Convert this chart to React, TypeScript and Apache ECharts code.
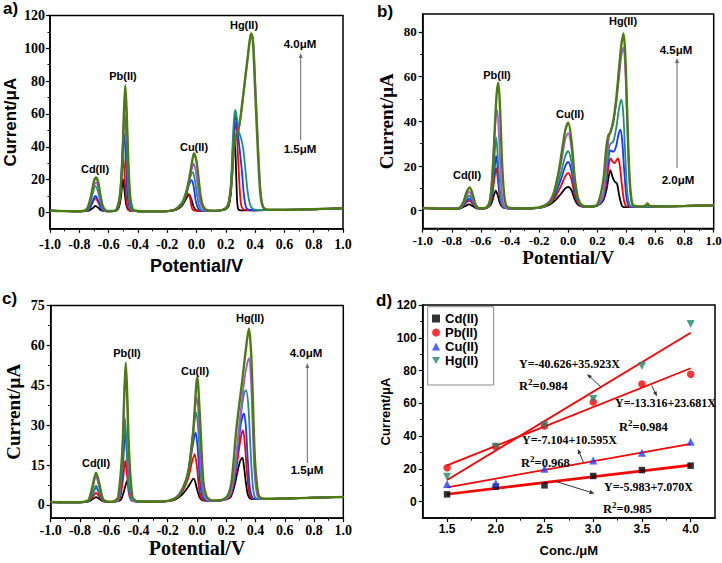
import React, { useEffect, useRef } from 'react';
import * as echarts from 'echarts';

type Pt = [number, number];

// ---------- panel a: voltammograms, 1.5 -> 4.0 uM ----------
const A_BLACK: Pt[] = [[-1.0,1.0],[-0.9,0.8],[-0.8,0.7],[-0.74,0.9],[-0.71,2.5],[-0.69,3.9],[-0.67,2.8],[-0.65,1.2],[-0.6,0.7],[-0.55,1.0],[-0.53,3],[-0.515,10],[-0.502,20.3],[-0.49,12],[-0.478,4],[-0.46,1.2],[-0.4,0.7],[-0.3,0.6],[-0.2,0.7],[-0.14,1.5],[-0.1,4],[-0.07,8.5],[-0.051,11],[-0.035,8],[-0.02,3.5],[0.0,1.2],[0.05,0.8],[0.1,0.9],[0.15,1.1],[0.2,2],[0.22,4],[0.235,12],[0.245,25],[0.252,38],[0.258,45],[0.265,38],[0.272,20],[0.278,6],[0.285,2],[0.3,1.2],[0.4,1.3],[0.5,1.4],[0.6,1.5],[0.8,1.9],[1.0,2.5]];
const A_RED: Pt[] = [[-1.0,1.0],[-0.9,0.8],[-0.8,0.7],[-0.74,1.2],[-0.72,4],[-0.69,8.5],[-0.665,5],[-0.645,1.5],[-0.6,0.7],[-0.55,1.0],[-0.53,4],[-0.515,16],[-0.5,33.7],[-0.488,18],[-0.475,5],[-0.46,1.3],[-0.4,0.7],[-0.3,0.6],[-0.2,0.8],[-0.14,1.8],[-0.1,5],[-0.075,9.5],[-0.06,11.4],[-0.045,9],[-0.035,4],[-0.025,1.5],[0.0,0.9],[0.05,0.8],[0.1,0.9],[0.15,1.1],[0.2,2],[0.22,4.5],[0.235,14],[0.248,35],[0.257,50],[0.263,55],[0.27,52],[0.28,40],[0.29,22],[0.3,8],[0.31,3],[0.33,1.5],[0.4,1.3],[0.5,1.4],[0.6,1.5],[0.8,1.9],[1.0,2.5]];
const A_BLUE: Pt[] = [[-1.0,1.0],[-0.9,0.8],[-0.8,0.7],[-0.74,1.3],[-0.72,4.5],[-0.69,10],[-0.665,6],[-0.645,1.6],[-0.6,0.7],[-0.55,1.0],[-0.53,4.5],[-0.515,18],[-0.503,38],[-0.493,47.5],[-0.482,30],[-0.47,9],[-0.455,2],[-0.44,1],[-0.4,0.7],[-0.3,0.6],[-0.2,0.8],[-0.15,1.5],[-0.1,5.5],[-0.07,11],[-0.05,17],[-0.033,19.7],[-0.02,16],[-0.005,7],[0.01,2.5],[0.03,1.0],[0.1,0.9],[0.15,1.1],[0.2,2],[0.22,5],[0.235,15],[0.248,38],[0.258,54],[0.265,59],[0.275,55],[0.285,46],[0.295,38],[0.31,25],[0.322,12],[0.335,4],[0.35,1.8],[0.4,1.3],[0.5,1.4],[0.6,1.5],[0.8,1.9],[1.0,2.5]];
const A_TEAL: Pt[] = [[-1.0,1.0],[-0.9,0.8],[-0.8,0.7],[-0.75,1.2],[-0.73,4.5],[-0.71,11],[-0.69,16],[-0.67,12],[-0.655,6],[-0.64,2],[-0.62,0.9],[-0.55,1.0],[-0.53,5],[-0.515,20],[-0.5,48],[-0.49,60],[-0.48,45],[-0.468,18],[-0.455,4],[-0.44,1.2],[-0.4,0.7],[-0.3,0.6],[-0.2,0.8],[-0.15,1.5],[-0.1,6],[-0.07,13],[-0.045,21],[-0.025,24.6],[-0.01,19],[0.005,10],[0.02,3.5],[0.04,1.2],[0.1,0.9],[0.15,1.1],[0.2,2.3],[0.22,6],[0.235,18],[0.248,45],[0.258,59],[0.265,62.5],[0.275,58],[0.29,49],[0.305,45],[0.32,38],[0.335,25],[0.35,12],[0.365,5],[0.38,2.5],[0.4,1.6],[0.5,1.4],[0.6,1.5],[0.8,1.9],[1.0,2.5]];
const A_PURPLE: Pt[] = [[-1.0,1.0],[-0.9,0.8],[-0.8,0.7],[-0.76,1.1],[-0.74,3],[-0.72,9],[-0.7,16],[-0.685,18.3],[-0.67,15],[-0.655,8],[-0.64,3],[-0.62,1],[-0.56,0.9],[-0.54,3],[-0.52,12],[-0.505,33],[-0.495,58],[-0.486,74],[-0.477,58],[-0.467,32],[-0.455,11],[-0.44,3],[-0.42,1],[-0.3,0.6],[-0.2,0.8],[-0.15,1.5],[-0.1,5],[-0.07,12],[-0.045,21],[-0.03,27],[-0.019,29.7],[-0.005,25],[0.01,15],[0.025,6],[0.045,2],[0.07,1.1],[0.15,1.1],[0.2,2.5],[0.22,6],[0.24,19],[0.255,38],[0.27,46],[0.29,52],[0.31,64],[0.33,79],[0.35,94],[0.365,105],[0.377,108],[0.389,103],[0.404,75],[0.424,35],[0.439,12],[0.454,4],[0.47,2],[0.5,1.6],[0.6,1.6],[0.8,2],[1.0,2.6]];
const A_OLIVE: Pt[] = [[-1.0,1.0],[-0.9,0.8],[-0.8,0.7],[-0.76,1.2],[-0.74,3.5],[-0.72,10],[-0.7,19],[-0.685,21.3],[-0.67,18],[-0.655,10],[-0.64,4],[-0.62,1.2],[-0.6,0.8],[-0.56,0.9],[-0.54,3],[-0.52,12],[-0.505,35],[-0.495,62],[-0.486,77.4],[-0.477,62],[-0.467,35],[-0.455,12],[-0.44,3],[-0.42,1],[-0.3,0.6],[-0.2,0.8],[-0.15,1.6],[-0.1,5],[-0.07,12],[-0.045,23],[-0.03,31],[-0.017,36],[0.0,31],[0.015,20],[0.03,9],[0.05,3],[0.08,1.2],[0.15,1.1],[0.2,2.5],[0.22,6],[0.24,20],[0.255,40],[0.27,47],[0.29,52],[0.31,65],[0.33,80],[0.35,95],[0.365,106],[0.374,109],[0.385,104],[0.4,75],[0.42,35],[0.435,12],[0.45,4],[0.47,2],[0.5,1.6],[0.6,1.6],[0.8,2],[1.0,2.6]];

// ---------- panel b: 2.0 -> 4.5 uM ----------
const B_BLACK: Pt[] = [[-1,1.2],[-0.9,1.0],[-0.8,0.9],[-0.74,1.1],[-0.71,2],[-0.68,2.8],[-0.655,2],[-0.63,1.1],[-0.6,1.0],[-0.56,1.2],[-0.53,3],[-0.51,7],[-0.498,9],[-0.485,7],[-0.47,3.5],[-0.45,1.5],[-0.42,1.1],[-0.3,1.0],[-0.2,1.3],[-0.15,2],[-0.1,4],[-0.05,7.5],[-0.02,10],[0.0,10.6],[0.02,9.5],[0.045,5],[0.07,2.5],[0.1,1.8],[0.15,1.8],[0.2,2.2],[0.24,4.5],[0.265,10],[0.28,16],[0.29,18],[0.305,15],[0.32,13],[0.336,12],[0.35,7],[0.365,3],[0.38,1.6],[0.42,1.6],[0.5,1.7],[0.6,1.9],[0.8,2.1],[1.0,2.4]];
const B_RED: Pt[] = [[-1,1.2],[-0.9,1.0],[-0.8,0.9],[-0.74,1.2],[-0.71,3],[-0.68,4.5],[-0.655,3],[-0.63,1.2],[-0.6,1.0],[-0.56,1.2],[-0.53,4],[-0.51,13],[-0.495,19.1],[-0.482,13],[-0.468,5],[-0.45,1.8],[-0.42,1.1],[-0.3,1.0],[-0.2,1.3],[-0.15,2.2],[-0.1,5],[-0.05,11],[-0.02,15.5],[0.0,16.9],[0.02,14.5],[0.045,7],[0.07,3],[0.1,1.8],[0.15,1.8],[0.2,2.3],[0.24,5.5],[0.265,14],[0.28,21],[0.292,23.4],[0.305,22],[0.32,21.3],[0.333,22.8],[0.342,23.4],[0.355,20],[0.37,11],[0.385,4],[0.4,2],[0.44,1.7],[0.5,1.7],[0.6,1.9],[0.8,2.1],[1.0,2.4]];
const B_BLUE: Pt[] = [[-1,1.2],[-0.9,1.0],[-0.8,0.9],[-0.74,1.2],[-0.71,3.5],[-0.68,5.4],[-0.655,3.5],[-0.63,1.3],[-0.6,1.0],[-0.56,1.2],[-0.53,5],[-0.51,16],[-0.495,24.5],[-0.482,17],[-0.468,6],[-0.45,2],[-0.42,1.1],[-0.3,1.0],[-0.2,1.3],[-0.15,2.3],[-0.1,6],[-0.05,14],[-0.02,20],[0.0,21.8],[0.02,18.5],[0.045,9],[0.07,3.5],[0.1,1.9],[0.15,1.8],[0.2,2.3],[0.24,6],[0.265,17],[0.28,25],[0.29,27],[0.31,26.3],[0.33,29],[0.345,34],[0.358,36.3],[0.37,32],[0.385,18],[0.4,6],[0.415,2.2],[0.44,1.7],[0.5,1.7],[0.6,1.9],[0.8,2.1],[1.0,2.4]];
const B_TEAL: Pt[] = [[-1,1.2],[-0.9,1.0],[-0.8,0.9],[-0.74,1.3],[-0.71,4.2],[-0.68,6.7],[-0.655,4.2],[-0.63,1.4],[-0.6,1.0],[-0.56,1.2],[-0.53,6],[-0.51,21],[-0.495,32.8],[-0.482,22],[-0.468,8],[-0.45,2.3],[-0.42,1.1],[-0.3,1.0],[-0.2,1.3],[-0.15,2.4],[-0.1,7],[-0.05,17],[-0.02,24.5],[0.0,26.6],[0.02,22.5],[0.045,11],[0.07,4],[0.1,2],[0.15,1.8],[0.2,2.4],[0.24,6.5],[0.265,19],[0.28,28],[0.29,29.9],[0.31,31],[0.33,37],[0.35,46],[0.365,49.7],[0.378,44],[0.392,25],[0.405,9],[0.42,3],[0.44,1.8],[0.5,1.8],[0.6,1.9],[0.8,2.1],[1.0,2.4]];
const B_PURPLE: Pt[] = [[-1,1.2],[-0.9,1.0],[-0.8,0.9],[-0.74,1.4],[-0.71,5],[-0.68,8.4],[-0.655,5],[-0.63,1.5],[-0.6,1.0],[-0.56,1.3],[-0.535,6],[-0.515,25],[-0.5,40],[-0.488,45.2],[-0.475,32],[-0.46,11],[-0.445,3],[-0.42,1.2],[-0.3,1.0],[-0.2,1.4],[-0.15,2.6],[-0.1,8],[-0.05,21],[-0.02,32],[0.0,34.8],[0.02,29],[0.045,14],[0.07,5],[0.1,2.2],[0.15,1.9],[0.2,2.6],[0.24,7.5],[0.265,23],[0.28,33],[0.29,35],[0.31,40],[0.33,48],[0.35,60],[0.365,69],[0.38,73],[0.392,64],[0.405,40],[0.42,14],[0.435,4],[0.45,2],[0.5,1.8],[0.53,2.2],[0.545,3],[0.56,2.1],[0.6,1.9],[0.8,2.1],[1.0,2.4]];
const B_OLIVE: Pt[] = [[-1,1.2],[-0.9,1.0],[-0.8,0.9],[-0.75,1.2],[-0.72,4],[-0.7,8],[-0.677,10.4],[-0.655,7],[-0.635,2.5],[-0.61,1.1],[-0.57,1.2],[-0.54,4],[-0.52,16],[-0.505,36],[-0.492,52],[-0.48,57.3],[-0.468,45],[-0.455,22],[-0.44,7],[-0.425,2.2],[-0.4,1.2],[-0.3,1.0],[-0.2,1.5],[-0.15,2.8],[-0.115,4.5],[-0.07,16],[-0.04,28],[-0.02,36],[0.0,39.4],[0.023,31],[0.046,14],[0.07,5],[0.1,2.3],[0.15,1.9],[0.2,2.7],[0.24,13],[0.26,27],[0.275,33.5],[0.29,35],[0.31,40],[0.33,50],[0.35,64],[0.365,74],[0.38,79.3],[0.392,70],[0.405,45],[0.42,17],[0.435,5],[0.45,2.3],[0.5,1.9],[0.53,2.3],[0.545,3.2],[0.56,2.2],[0.6,1.9],[0.8,2.1],[1.0,2.4]];

// ---------- panel c: 1.5 -> 4.0 uM ----------
const C_BLACK: Pt[] = [[-1,1.1],[-0.9,1.0],[-0.8,1.0],[-0.74,1.3],[-0.71,2.3],[-0.69,2.9],[-0.67,2.3],[-0.64,1.3],[-0.6,1.1],[-0.55,1.3],[-0.52,2],[-0.5,5],[-0.476,9.2],[-0.46,5],[-0.445,2],[-0.42,1.3],[-0.3,1.2],[-0.2,1.4],[-0.15,2],[-0.1,4],[-0.06,6.8],[-0.023,9.9],[0.0,6],[0.02,2.6],[0.05,1.6],[0.1,1.5],[0.15,1.6],[0.2,2.1],[0.23,3],[0.255,7],[0.275,12],[0.295,16.5],[0.31,17.8],[0.322,14],[0.335,8],[0.35,3.5],[0.37,2.3],[0.4,2.2],[0.5,2.3],[0.6,2.4],[0.8,2.7],[1.0,3.0]];
const C_RED: Pt[] = [[-1,1.1],[-0.9,1.0],[-0.8,1.0],[-0.74,1.4],[-0.71,3.3],[-0.69,4.5],[-0.67,3.3],[-0.64,1.4],[-0.6,1.1],[-0.55,1.3],[-0.525,3],[-0.505,10],[-0.49,16.6],[-0.478,11],[-0.465,4],[-0.45,1.8],[-0.42,1.3],[-0.3,1.2],[-0.2,1.4],[-0.15,2.2],[-0.1,5],[-0.06,10],[-0.035,16],[-0.016,19.1],[0.0,14],[0.015,6],[0.03,2.5],[0.06,1.6],[0.1,1.5],[0.15,1.6],[0.2,2.2],[0.23,3.5],[0.255,9],[0.28,18],[0.3,25.5],[0.314,28.1],[0.327,23],[0.34,13],[0.355,5],[0.37,2.6],[0.4,2.2],[0.5,2.3],[0.6,2.4],[0.8,2.7],[1.0,3.0]];
const C_BLUE: Pt[] = [[-1,1.1],[-0.9,1.0],[-0.8,1.0],[-0.74,1.5],[-0.71,4.5],[-0.69,6.5],[-0.67,4.5],[-0.64,1.5],[-0.6,1.1],[-0.55,1.3],[-0.525,4],[-0.505,16],[-0.49,27.8],[-0.478,18],[-0.465,6],[-0.45,2],[-0.42,1.3],[-0.3,1.2],[-0.2,1.4],[-0.15,2.3],[-0.1,5.5],[-0.06,12],[-0.03,22],[-0.01,27.4],[0.005,21],[0.02,9],[0.035,3.5],[0.06,1.7],[0.1,1.5],[0.15,1.6],[0.2,2.2],[0.23,4],[0.255,10],[0.28,21],[0.3,30.5],[0.32,34.4],[0.333,30],[0.347,17],[0.362,6],[0.38,2.6],[0.4,2.2],[0.5,2.3],[0.6,2.4],[0.8,2.7],[1.0,3.0]];
const C_TEAL: Pt[] = [[-1,1.1],[-0.9,1.0],[-0.8,1.0],[-0.74,1.6],[-0.71,5],[-0.69,7.2],[-0.67,5],[-0.64,1.6],[-0.6,1.1],[-0.55,1.3],[-0.527,4.5],[-0.507,19],[-0.492,32.5],[-0.48,21],[-0.467,7],[-0.45,2.2],[-0.42,1.3],[-0.3,1.2],[-0.2,1.4],[-0.15,2.4],[-0.1,6],[-0.06,13],[-0.03,26],[-0.005,34.8],[0.01,27],[0.025,12],[0.04,4],[0.065,1.8],[0.1,1.5],[0.15,1.6],[0.2,2.3],[0.23,4.5],[0.255,11],[0.28,23],[0.305,36],[0.322,42],[0.335,43.2],[0.35,38],[0.365,22],[0.38,8],[0.395,3],[0.42,2.3],[0.5,2.3],[0.6,2.4],[0.8,2.7],[1.0,3.0]];
const C_PURPLE: Pt[] = [[-1,1.1],[-0.9,1.0],[-0.8,1.0],[-0.75,1.5],[-0.72,5],[-0.69,10.6],[-0.665,6],[-0.64,2],[-0.6,1.1],[-0.55,1.4],[-0.53,4],[-0.51,20],[-0.498,40],[-0.488,51],[-0.478,40],[-0.466,18],[-0.452,5],[-0.44,2],[-0.4,1.3],[-0.3,1.2],[-0.2,1.4],[-0.15,2.5],[-0.1,6],[-0.06,12],[-0.03,25],[-0.002,40.6],[0.015,30],[0.03,13],[0.045,5],[0.07,2],[0.1,1.6],[0.15,1.6],[0.2,2.3],[0.235,5.5],[0.265,17],[0.29,31],[0.315,43],[0.335,51],[0.355,55.2],[0.368,48],[0.38,30],[0.393,12],[0.41,4],[0.43,2.4],[0.5,2.3],[0.6,2.4],[0.8,2.7],[1.0,3.0]];
const C_OLIVE: Pt[] = [[-1,1.1],[-0.9,1.0],[-0.8,1.0],[-0.755,1.4],[-0.738,2],[-0.715,6.8],[-0.69,12.1],[-0.663,6.8],[-0.645,2.5],[-0.62,1.3],[-0.58,1.2],[-0.555,1.8],[-0.538,3],[-0.51,20.6],[-0.498,40],[-0.487,53.5],[-0.476,40],[-0.465,20.6],[-0.442,3],[-0.42,1.6],[-0.4,1.4],[-0.3,1.2],[-0.2,1.5],[-0.15,2.5],[-0.125,3.3],[-0.09,7],[-0.06,12],[-0.027,27],[0.002,48],[0.02,33],[0.043,9],[0.06,4],[0.077,2.4],[0.1,1.7],[0.15,1.7],[0.19,2.4],[0.215,4],[0.237,9],[0.27,29],[0.31,47],[0.333,58],[0.355,66.3],[0.367,60],[0.378,46],[0.396,17],[0.419,4],[0.44,2.5],[0.5,2.3],[0.6,2.4],[0.8,2.7],[1.0,3.0]];

// ---------- panel d: calibration ----------
const D_CONC = [1.5, 2.0, 2.5, 3.0, 3.5, 4.0];
const D_CD = [4.5, 9.2, 10.0, 15.7, 19.3, 22.0];
const D_PB = [20.7, 33.6, 46.2, 60.8, 71.8, 77.7];
const D_CU = [10.8, 11.2, 20.1, 25.2, 29.9, 36.6];
const D_HG = [15.3, 33.6, 46.6, 62.6, 82.8, 108.4];
const FIT_CD: Pt[] = [[1.5, 4.6], [4.0, 22.3]];
const FIT_PB: Pt[] = [[1.5, 22.2], [4.0, 81.4]];
const FIT_CU: Pt[] = [[1.5, 8.8], [4.0, 35.3]];
const FIT_HG: Pt[] = [[1.5, 13.3], [4.0, 103.1]];
const D_NAMES = ['Cd(II)', 'Pb(II)', 'Cu(II)', 'Hg(II)'];

// ---------- tick labels ----------
const POT_TICKS = [-1.0, -0.8, -0.6, -0.4, -0.2, 0.0, 0.2, 0.4, 0.6, 0.8, 1.0];
const A_Y_TICKS = [0, 20, 40, 60, 80, 100, 120];
const B_Y_TICKS = [0, 20, 40, 60, 80];
const C_Y_TICKS = [0, 15, 30, 45, 60, 75];
const D_Y_TICKS = [0, 20, 40, 60, 80, 100, 120];
const D_X_TICKS = [1.5, 2.0, 2.5, 3.0, 3.5, 4.0];

const CURVE_COLORS = ['#000000', '#ff0000', '#1637ff', '#1e9077', '#b04ff0', '#4a7c10'];
const CURVE_WIDTHS = [1.8, 1.8, 1.8, 1.8, 1.8, 2.4];

const SANS = '"Liberation Sans", Arial, sans-serif';
const SERIF = '"Liberation Serif", "Times New Roman", serif';

const GRIDS = [
  { left: 50, top: 15.5, width: 293, height: 213.3 },
  { left: 422.7, top: 14, width: 291, height: 214.6 },
  { left: 50.7, top: 305.5, width: 292.6, height: 212.7 },
  { left: 422.7, top: 305, width: 292.3, height: 213.1 },
];

function axisBase(gi: number, min: number, max: number, step: number, ticks: number[], font: string, size: number, margin: number, digits: number | null) {
  return {
    gridIndex: gi,
    type: 'value',
    min,
    max,
    minInterval: step,
    maxInterval: step,
    axisLine: { show: true, onZero: false, lineStyle: { color: '#000', width: 1.5 } },
    axisTick: { show: true, inside: false, length: 4, customValues: ticks, lineStyle: { color: '#000', width: 1.2 } },
    minorTick: { show: true, splitNumber: 2, length: 2.5, lineStyle: { color: '#000', width: 1 } },
    splitLine: { show: false },
    axisLabel: {
      customValues: ticks,
      margin,
      showMinLabel: true,
      showMaxLabel: true,
      fontFamily: font,
      fontWeight: 'bold',
      fontSize: size,
      color: '#000',
      formatter: (v: number) => (digits == null ? String(Math.round(v)) : v.toFixed(digits)),
    },
  };
}

function named(ax: any, name: string, font: string, size: number, gap: number) {
  return {
    ...ax,
    name,
    nameLocation: 'middle',
    nameGap: gap,
    nameTextStyle: { fontFamily: font, fontWeight: 'bold', fontSize: size, color: '#000' },
  };
}

function txt(x: number, y: number, text: string, font: string, size: number, align = 'center', vAlign = 'middle', color = '#000') {
  return {
    type: 'text',
    x,
    y,
    silent: true,
    z: 100,
    style: {
      text,
      fontFamily: font,
      fontWeight: 'bold',
      fontSize: size,
      fill: color,
      align,
      verticalAlign: vAlign,
      textAlign: align,
      textVerticalAlign: vAlign,
    },
  };
}

function r2(x: number, y: number, value: string) {
  return {
    type: 'text',
    x,
    y,
    silent: true,
    z: 100,
    style: {
      text: `{r|R}{s|2}{r|=${value}}`,
      fill: '#000',
      align: 'left',
      verticalAlign: 'middle',
      textAlign: 'left',
      textVerticalAlign: 'middle',
      rich: {
        r: { fontFamily: SERIF, fontWeight: 'bold', fontSize: 12.5, lineHeight: 15, fill: '#000', verticalAlign: 'bottom' },
        s: { fontFamily: SERIF, fontWeight: 'bold', fontSize: 9, lineHeight: 9, fill: '#000', verticalAlign: 'top' },
      },
    },
  };
}

function arrow(x1: number, y1: number, x2: number, y2: number, color: string, len = 6, hw = 2.4) {
  const dx = x2 - x1;
  const dy = y2 - y1;
  const L = Math.hypot(dx, dy);
  const ux = dx / L;
  const uy = dy / L;
  const bx = x2 - ux * len;
  const by = y2 - uy * len;
  return [
    { type: 'line', silent: true, z: 100, shape: { x1, y1, x2: bx, y2: by }, style: { stroke: color, lineWidth: 1 } },
    {
      type: 'polygon',
      silent: true,
      z: 100,
      shape: { points: [[x2, y2], [bx - uy * hw, by + ux * hw], [bx + uy * hw, by - ux * hw]] },
      style: { fill: color },
    },
  ];
}

export default function App() {
  const ref = useRef<HTMLDivElement>(null);

  useEffect(() => {
    if (!ref.current) return;
    const chart = echarts.init(ref.current, undefined, { renderer: 'svg' });

    const panels = [
      [A_BLACK, A_RED, A_BLUE, A_TEAL, A_PURPLE, A_OLIVE],
      [B_BLACK, B_RED, B_BLUE, B_TEAL, B_PURPLE, B_OLIVE],
      [C_BLACK, C_RED, C_BLUE, C_TEAL, C_PURPLE, C_OLIVE],
    ];
    const series: any[] = [];
    panels.forEach((curves, gi) => {
      curves.forEach((data, k) => {
        series.push({
          type: 'line',
          xAxisIndex: gi,
          yAxisIndex: gi,
          data,
          symbol: 'none',
          showSymbol: false,
          smooth: 0.3,
          silent: true,
          lineStyle: { color: CURVE_COLORS[k], width: CURVE_WIDTHS[k] },
          z: 2 + k,
        });
      });
    });

    const fits = [FIT_CD, FIT_PB, FIT_CU, FIT_HG];
    fits.forEach((data, k) => {
      series.push({
        type: 'line',
        name: 'fit' + k,
        xAxisIndex: 3,
        yAxisIndex: 3,
        data,
        symbol: 'none',
        silent: true,
        lineStyle: { color: '#ff0000', width: k === 0 ? 2.6 : 1.8 },
        z: 3,
      });
    });

    const scatterDefs = [
      { name: D_NAMES[0], vals: D_CD, color: '#000000', symbol: 'rect', size: 6.5 },
      { name: D_NAMES[1], vals: D_PB, color: '#ff0000', symbol: 'circle', size: 7.5 },
      { name: D_NAMES[2], vals: D_CU, color: '#1f3fff', symbol: 'triangle', size: 8 },
      { name: D_NAMES[3], vals: D_HG, color: '#1a8a6a', symbol: 'path://M0,0L10,0L5,9Z', size: 8 },
    ];
    scatterDefs.forEach((s) => {
      series.push({
        type: 'scatter',
        name: s.name,
        xAxisIndex: 3,
        yAxisIndex: 3,
        data: D_CONC.map((c, i) => [c, s.vals[i]]),
        symbol: s.symbol,
        symbolSize: s.size,
        itemStyle: { color: s.color },
        z: 5,
      });
    });

    const xAxes = [
      named(axisBase(0, -1, 1, 0.2, POT_TICKS, SERIF, 14, 9, 1), 'Potential/V', SANS, 18, 28),
      named(axisBase(1, -1, 1, 0.2, POT_TICKS, SERIF, 13, 5, 1), 'Potential/V', SERIF, 19, 18),
      named(axisBase(2, -1, 1, 0.2, POT_TICKS, SERIF, 14, 5, 1), 'Potential/V', SERIF, 20, 19),
      named(axisBase(3, 1.25, 4.25, 0.5, D_X_TICKS, SANS, 12, 5, 1), 'Conc./μM', SANS, 13, 26),
    ];
    const yAxes = [
      named(axisBase(0, -10, 120, 20, A_Y_TICKS, SERIF, 14, 5, null), 'Current/μA', SANS, 17, 31),
      named(axisBase(1, -8, 88, 20, B_Y_TICKS, SERIF, 13, 6, null), 'Current/μA', SERIF, 19, 27),
      named(axisBase(2, -5, 75, 15, C_Y_TICKS, SERIF, 14, 6, null), 'Current/μA', SERIF, 19, 28),
      named(axisBase(3, -10, 120, 20, D_Y_TICKS, SANS, 12, 6, null), 'Current/μA', SANS, 13, 31),
    ];

    const graphic: any[] = [
      txt(3, 8, 'a)', SANS, 17, 'left'),
      txt(377, 11, 'b)', SANS, 17, 'left'),
      txt(2, 298, 'c)', SANS, 17, 'left'),
      txt(376, 300, 'd)', SANS, 17, 'left'),
      // panel a labels
      txt(95, 169, 'Cd(II)', SANS, 11),
      txt(123, 76, 'Pb(II)', SANS, 11),
      txt(194, 147, 'Cu(II)', SANS, 11),
      txt(244, 25, 'Hg(II)', SANS, 11),
      txt(300, 44, '4.0μM', SANS, 11.5),
      txt(300, 149, '1.5μM', SANS, 11.5),
      ...arrow(300.7, 140, 300.7, 53, '#6b6b6b', 5, 2),
      // panel b labels
      txt(467, 175, 'Cd(II)', SANS, 11),
      txt(497, 75, 'Pb(II)', SANS, 11),
      txt(570, 114, 'Cu(II)', SANS, 11),
      txt(623, 21, 'Hg(II)', SANS, 11),
      txt(676, 50, '4.5μM', SANS, 11.5),
      txt(678, 180, '2.0μM', SANS, 11.5),
      ...arrow(677, 168, 677, 58, '#6b6b6b', 5, 2),
      // panel c labels
      txt(96, 463, 'Cd(II)', SANS, 11),
      txt(127, 353, 'Pb(II)', SANS, 11),
      txt(195, 371, 'Cu(II)', SANS, 11),
      txt(250, 318, 'Hg(II)', SANS, 11),
      txt(306, 353, '4.0μM', SANS, 11.5),
      txt(307, 470, '1.5μM', SANS, 11.5),
      ...arrow(307.3, 463, 307.3, 363, '#6b6b6b', 5, 2),
      // panel d legend frame
      {
        type: 'rect',
        silent: true,
        z: 90,
        shape: { x: 427.7, y: 306.7, width: 66, height: 78.3 },
        style: { fill: '#fff', stroke: '#8a8a8a', lineWidth: 1 },
      },
      // panel d equations
      txt(519, 363.5, 'Y=-40.626+35.923X', SERIF, 12, 'left'),
      r2(519, 385, '0.984'),
      txt(615, 403, 'Y=-13.316+23.681X', SERIF, 12, 'left'),
      r2(619, 426, '0.984'),
      txt(522, 440, 'Y=-7.104+10.595X', SERIF, 12, 'left'),
      r2(521, 461.5, '0.968'),
      txt(604, 486.5, 'Y=-5.983+7.070X', SERIF, 12, 'left'),
      r2(603, 508, '0.985'),
      ...arrow(601, 387, 587, 374, '#333', 5, 2),
      ...arrow(651.7, 385.5, 657, 396.5, '#333', 5, 2),
      ...arrow(583.3, 462, 577.7, 449, '#333', 5, 2),
      ...arrow(556, 481.5, 594.5, 493.5, '#333', 5, 2),
    ];

    chart.setOption({
      animation: false,
      backgroundColor: '#ffffff',
      grid: GRIDS.map((g) => ({
        ...g,
        show: true,
        borderColor: '#000',
        borderWidth: 1.5,
        backgroundColor: 'transparent',
        containLabel: false,
        outerBoundsMode: 'none',
      })),
      xAxis: xAxes,
      yAxis: yAxes,
      legend: {
        data: D_NAMES,
        orient: 'vertical',
        left: 428,
        top: 307,
        itemWidth: 8,
        itemHeight: 8,
        itemGap: 1,
        padding: [5, 12, 5, 4],
        textStyle: { fontFamily: SANS, fontWeight: 'bold', fontSize: 13, color: '#000' },
        selectedMode: false,
        z: 95,
      },
      graphic,
      series,
    });

    return () => chart.dispose();
  }, []);

  return (
    <div
      ref={ref}
      style={{ position: 'absolute', left: 0, top: 0, width: 722, height: 563, background: '#fff' }}
    />
  );
}
